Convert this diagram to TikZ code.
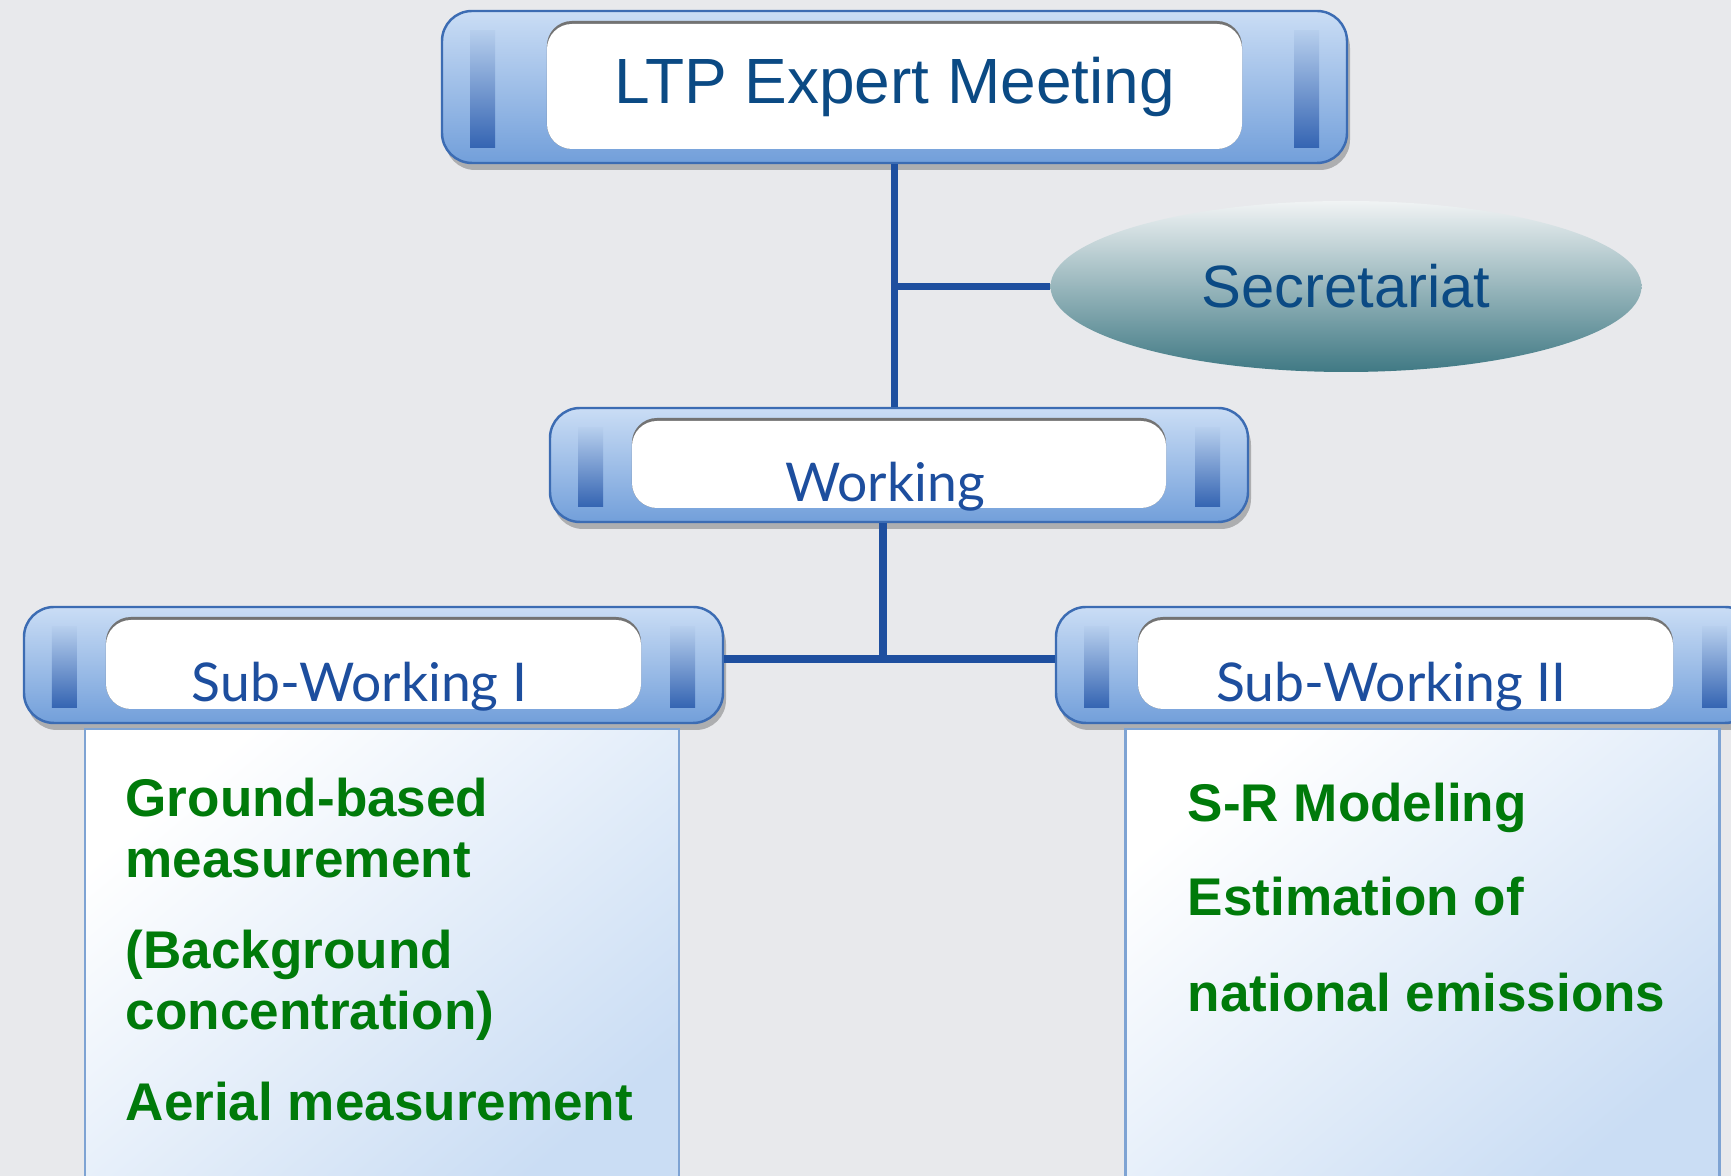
\documentclass[tikz,border=0pt]{standalone}
\usepackage{fontspec}
\setmainfont{Liberation Sans}
\newfontfamily\gillfont{Lato}
\usetikzlibrary{positioning,calc,shapes.geometric,shadows}

\definecolor{paper}{HTML}{E8E9EC}
\definecolor{bartop}{HTML}{CADDF5}
\definecolor{barmid}{HTML}{F6F9FE}
\definecolor{barbot}{HTML}{729FDA}
\definecolor{barrim}{HTML}{3C6CB3}
\definecolor{bandtop}{HTML}{B6CEED}
\definecolor{banddark}{HTML}{3464B2}
\definecolor{linkblue}{HTML}{1E4F9F}
\definecolor{titleblue}{HTML}{0B4A84}
\definecolor{subblue}{HTML}{1D4E9E}
\definecolor{itemgreen}{HTML}{007A0A}
\definecolor{sectop}{HTML}{F0F3F4}
\definecolor{secbot}{HTML}{407984}
\definecolor{panelblue}{HTML}{CADDF4}
\definecolor{panelrim}{HTML}{7EA3D3}

\tikzset{
  face inset/.store in=\faceinset, face inset=0.82cm,
  barbox/.style={rounded corners=0.3cm, draw=barrim, line width=0.7pt,
    top color=bartop, middle color=barmid, bottom color=barbot,
    drop shadow={shadow xshift=0.03cm, shadow yshift=-0.07cm, opacity=0.25, fill=black},
    inner sep=0pt,
    path picture={
      \coordinate (bbnw) at (path picture bounding box.north west);
      \coordinate (bbse) at (path picture bounding box.south east);
      % darker bands at both ends
      \fill[sharp corners, top color=bandtop, bottom color=banddark]
        ($(bbnw)+(0.28,-0.2)$) rectangle ($(bbnw |- bbse)+(0.53,0.15)$);
      \fill[sharp corners, top color=bandtop, bottom color=banddark]
        ($(bbse |- bbnw)+(-0.53,-0.2)$) rectangle ($(bbse)+(-0.28,0.15)$);
      % white face with a shadowed rim
      \fill[black!55, rounded corners=0.25cm]
        ($(bbnw)+(\faceinset-0.03,-0.1)$) rectangle ($(bbse)+(-\faceinset,0.14)$);
      \fill[white, rounded corners=0.25cm]
        ($(bbnw)+(\faceinset,-0.13)$) rectangle ($(bbse)+(-\faceinset,0.14)$);
    }},
  lowtext/.style={text height=0.9cm, text depth=0.16cm,
    font=\gillfont\fontsize{15.2}{18}\selectfont, text=subblue},
  panel/.style={draw=panelrim, line width=0.8pt, top color=white,
    bottom color=panelblue, shading angle=40,
    minimum width=5.94cm, minimum height=4.6cm},
  item/.style={anchor=base west, inner sep=0pt, text=itemgreen,
    font=\bfseries\fontsize{15.1}{17}\selectfont},
  link/.style={draw=linkblue, line width=2.2pt},
}

\begin{document}
\begin{tikzpicture}
\useasboundingbox (0,0) rectangle (17.31,-11.76);
\clip (0,0) rectangle (17.31,-11.76);
\fill[paper] (0,0) rectangle (17.31,-11.76);

% boxes
\node (ltp) [barbox, face inset=1.05cm, minimum width=9.05cm, minimum height=1.52cm,
  font=\fontsize{18.2}{21}\selectfont, text=titleblue] at (8.945,-0.87) {LTP Expert Meeting};
\node (sec) [ellipse, top color=sectop, bottom color=secbot, minimum width=5.91cm,
  minimum height=1.71cm, inner sep=0pt, font=\fontsize{17}{20}\selectfont,
  text=titleblue] at (13.46,-2.865) {Secretariat};
\node (working) [barbox, lowtext, minimum width=6.98cm, minimum height=1.14cm] at (8.99,-4.65) {Working\hspace*{0.28cm}};
\node (sub1) [barbox, lowtext, minimum width=6.99cm, minimum height=1.16cm] at (3.735,-6.65) {Sub-Working I\hspace*{0.28cm}};
\node (sub2) [barbox, lowtext, minimum width=6.99cm, minimum height=1.16cm] at (14.055,-6.65) {Sub-Working II\hspace*{0.28cm}};

% task panels
\node (panelL) [panel] at (3.82,-9.59) {};
\node (panelR) [panel] at (14.225,-9.59) {};

\node (ground) [item] at (1.25,-8.17) {Ground-based};
\node (meas) [item] at (1.25,-8.78) {measurement};
\node (backg) [item] at (1.25,-9.69) {(Background};
\node (conc) [item] at (1.25,-10.30) {concentration)};
\node (aerial) [item] at (1.25,-11.21) {Aerial measurement};

\node (srmod) [item] at (11.87,-8.22) {S-R Modeling};
\node (estim) [item] at (11.87,-9.16) {Estimation of};
\node (natem) [item] at (11.87,-10.12) {national emissions};

% connectors
\coordinate (hub) at (8.83,-6.59);
\draw[link] (ltp.south) -- (ltp.south |- working.north);
\draw[link] (ltp.south |- sec.west) -- (sec.west);
\draw[link] (working.south -| hub) -- (hub);
\draw[link] (sub1.east |- hub) -- (sub2.west |- hub);
\end{tikzpicture}
\end{document}
